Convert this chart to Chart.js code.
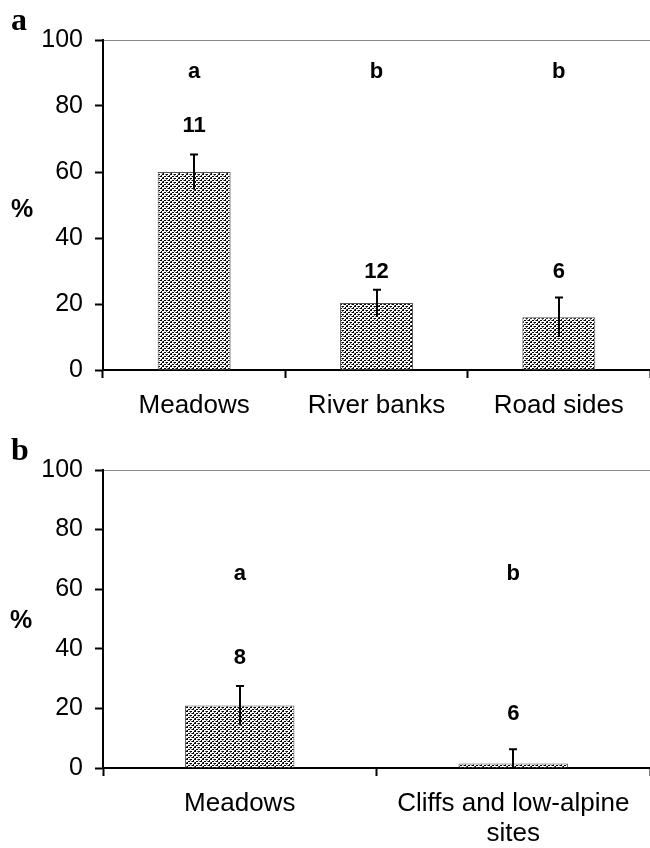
<!DOCTYPE html>
<html>
<head>
<meta charset="utf-8">
<script src="https://cdn.jsdelivr.net/npm/chart.js@4.4.0/dist/chart.umd.min.js"></script>
<style>
  html, body { margin: 0; padding: 0; background: #fff; }
  #wrap { position: relative; width: 650px; height: 848px; }
  #chartA { position: absolute; left: 0; top: 0; }
  #chartB { position: absolute; left: 0; top: 425px; }
</style>
</head>
<body>
<div id="wrap">
  <canvas id="chartA" width="650" height="425"></canvas>
  <canvas id="chartB" width="650" height="423"></canvas>
</div>
<script>
// panel a
var catsA = ["Meadows", "River banks", "Road sides"];
var valsA = [60, 20.3, 16];
var errA = [5.3, 4, 6];
var nA = ["11", "12", "6"];
var nLevelA = [72, 28, 28];
var letA = ["a", "b", "b"];
var letLevelA = 88.5;

// panel b
var catsB = ["Meadows", ["Cliffs and low-alpine", "sites"]];
var valsB = [21, 1.5];
var errB = [6.5, 4.8];
var nB = ["8", "6"];
var nLevelB = [35, 16];
var letB = ["a", "b"];
var letLevelB = 63;

var yTicks = [0, 20, 40, 60, 80, 100];

var SANS = "'Liberation Sans', Arial, sans-serif";

// stipple fill like the original print
function makePattern() {
  var rows = [
    "BB..BB.g",
    "..gB....",
    "..BB.gBB",
    ".B....g."
  ];
  var c = document.createElement('canvas');
  c.width = 8; c.height = 4;
  var g = c.getContext('2d');
  g.fillStyle = '#fff';
  g.fillRect(0, 0, 8, 4);
  for (var y = 0; y < rows.length; y++) {
    for (var x = 0; x < rows[y].length; x++) {
      var ch = rows[y][x];
      if (ch === 'B') { g.fillStyle = '#000'; g.fillRect(x, y, 1, 1); }
      if (ch === 'g') { g.fillStyle = '#777'; g.fillRect(x, y, 1, 1); }
    }
  }
  return g.createPattern(c, 'repeat');
}

// error bars + letters + n labels, all from data arrays
var extras = {
  id: 'extras',
  afterDatasetsDraw: function(chart, args, opts) {
    var ctx = chart.ctx;
    var xs = chart.scales.x, ys = chart.scales.y;
    var vals = chart.data.datasets[0].data;
    ctx.save();
    ctx.strokeStyle = '#000';
    ctx.lineWidth = 2;
    for (var i = 0; i < vals.length; i++) {
      var x = Math.round(xs.getPixelForValue(i));
      var yt = ys.getPixelForValue(vals[i] + opts.err[i]);
      var yb = ys.getPixelForValue(Math.max(0, vals[i] - opts.err[i]));
      ctx.beginPath();
      ctx.moveTo(x, yt); ctx.lineTo(x, yb);
      ctx.moveTo(x - 4, yt); ctx.lineTo(x + 4, yt);
      ctx.stroke();
    }
    ctx.fillStyle = '#000';
    ctx.textAlign = 'center';
    ctx.textBaseline = 'alphabetic';
    ctx.font = "bold 22px " + SANS;
    for (var j = 0; j < vals.length; j++) {
      var cx = xs.getPixelForValue(j);
      ctx.fillText(opts.letters[j], cx, ys.getPixelForValue(opts.letterLevel));
      ctx.fillText(opts.n[j], cx, ys.getPixelForValue(opts.nLevel[j]));
    }
    ctx.textAlign = 'left';
    ctx.font = "bold 25px " + SANS;
    ctx.fillText('%', opts.pctX, opts.pctY);
    ctx.font = "bold 32px 'Liberation Serif', 'Times New Roman', serif";
    ctx.fillText(opts.panel, 11, opts.panelY);
    ctx.restore();
  }
};

function buildChart(id, cats, vals, padTop, xHeight, labelPad, ext) {
  var ctx = document.getElementById(id).getContext('2d');
  return new Chart(ctx, {
    type: 'bar',
    data: {
      labels: cats,
      datasets: [{
        data: vals,
        backgroundColor: makePattern(),
        borderColor: '#555',
        borderWidth: 1,
        barPercentage: 0.4,
        categoryPercentage: 1.0
      }]
    },
    options: {
      responsive: false,
      animation: false,
      events: [],
      layout: { padding: { top: padTop, left: 0, right: 0, bottom: 0 } },
      plugins: {
        legend: { display: false },
        tooltip: { enabled: false },
        extras: ext
      },
      scales: {
        x: {
          afterFit: function(s) { s.height = xHeight; },
          grid: {
            offset: true,
            drawOnChartArea: false,
            tickLength: 8,
            tickColor: '#000',
            tickWidth: 2
          },
          border: { color: '#000', width: 2 },
          ticks: {
            color: '#000',
            font: { family: SANS, size: 26, lineHeight: 1.15 },
            padding: labelPad,
            maxRotation: 0,
            autoSkip: false
          }
        },
        y: {
          min: 0,
          max: 100,
          afterFit: function(s) { s.width = 103; },
          afterBuildTicks: function(s) {
            s.ticks = yTicks.map(function(v) { return { value: v }; });
          },
          grid: {
            color: function(c) { return c.tick && c.tick.value === 100 ? '#888' : 'rgba(0,0,0,0)'; },
            lineWidth: 1,
            tickLength: 8,
            tickColor: '#000',
            tickWidth: 2
          },
          border: { color: '#000', width: 2 },
          ticks: {
            color: '#000',
            font: { family: SANS, size: 25 },
            padding: 12
          }
        }
      }
    },
    plugins: [extras]
  });
}

buildChart('chartA', catsA, valsA, 40, 55, 13, {
  err: errA, n: nA, nLevel: nLevelA, letters: letA, letterLevel: letLevelA,
  panel: 'a', panelY: 30, pctX: 11, pctY: 217
});
buildChart('chartB', catsB, valsB, 45, 80, 13, {
  err: errB, n: nB, nLevel: nLevelB, letters: letB, letterLevel: letLevelB,
  panel: 'b', panelY: 35, pctX: 10, pctY: 203
});
</script>
</body>
</html>
